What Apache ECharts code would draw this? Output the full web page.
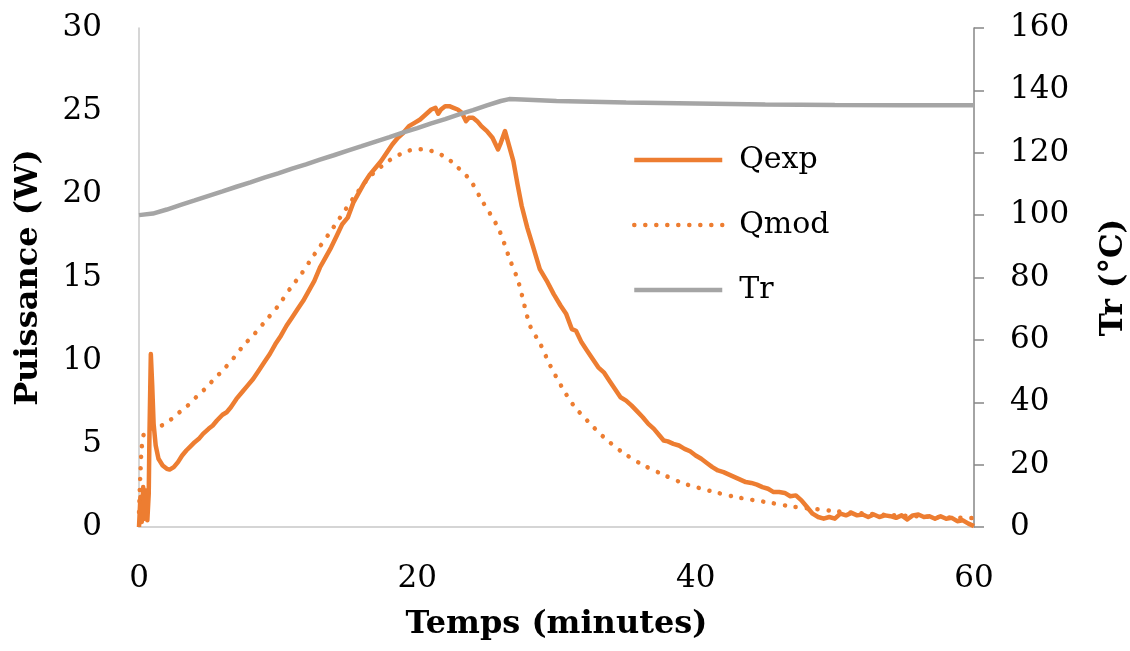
<!DOCTYPE html>
<html>
<head>
<meta charset="utf-8">
<script src="https://cdn.jsdelivr.net/npm/echarts@6/dist/echarts.min.js"></script>
<style>html,body{margin:0;padding:0;background:#fff}#c{width:1130px;height:651px}</style>
</head>
<body>
<div id="c"></div>
<script>
// ---- data (time in minutes) ----
const xTicks = [0, 20, 40, 60];
const leftTicks = [0, 5, 10, 15, 20, 25, 30];
const rightTicks = [0, 20, 40, 60, 80, 100, 120, 140, 160];

const qexp = [
 [0,0],[0.1,1.8],[0.2,0.3],[0.3,2.4],[0.4,0.5],[0.5,2.2],[0.6,0.4],[0.7,2.0],[0.75,5.5],[0.85,10.4],
 [0.95,8.5],[1.05,6.2],[1.2,4.9],[1.4,4.1],[1.7,3.7],[2.0,3.5],[2.2,3.45],[2.5,3.6],[2.8,3.9],[3.1,4.3],
 [3.4,4.6],[3.7,4.85],[4.0,5.1],[4.3,5.3],[4.6,5.6],[5.0,5.9],[5.3,6.1],[5.6,6.4],[6.0,6.75],[6.3,6.9],
 [6.6,7.2],[7.0,7.7],[7.4,8.1],[7.8,8.5],[8.2,8.9],[8.6,9.4],[9.0,9.9],[9.4,10.4],[9.8,11.0],[10.2,11.5],
 [10.6,12.1],[11.0,12.6],[11.4,13.1],[11.8,13.6],[12.2,14.2],[12.6,14.8],[13.0,15.6],[13.4,16.2],[13.8,16.8],[14.2,17.5],
 [14.6,18.2],[15.0,18.6],[15.4,19.5],[15.8,20.1],[16.2,20.7],[16.6,21.2],[17.0,21.6],[17.4,22.0],[17.8,22.5],[18.2,23.0],
 [18.6,23.4],[19.0,23.7],[19.4,24.1],[19.8,24.3],[20.2,24.5],[20.6,24.8],[21.0,25.1],[21.3,25.2],[21.5,24.85],[21.7,25.1],
 [22.0,25.3],[22.3,25.3],[22.6,25.2],[22.9,25.1],[23.2,24.9],[23.5,24.4],[23.7,24.6],[24.0,24.6],[24.3,24.4],[24.6,24.1],
 [25.0,23.8],[25.4,23.4],[25.8,22.7],[26.0,23.1],[26.3,23.8],[26.5,23.2],[26.9,22.0],[27.2,20.6],[27.5,19.3],[27.9,18.0],
 [28.3,16.9],[28.8,15.5],[29.3,14.8],[29.8,14.0],[30.3,13.3],[30.7,12.8],[31.1,11.9],[31.4,11.8],[31.8,11.1],[32.2,10.6],
 [32.6,10.1],[33.0,9.6],[33.4,9.3],[33.8,8.8],[34.2,8.3],[34.6,7.8],[35.0,7.6],[35.4,7.3],[35.8,6.95],[36.2,6.6],
 [36.6,6.2],[37.0,5.9],[37.4,5.5],[37.7,5.2],[38.0,5.15],[38.4,5.0],[38.8,4.9],[39.2,4.7],[39.6,4.55],[40.0,4.3],
 [40.4,4.1],[40.8,3.85],[41.2,3.6],[41.6,3.4],[42.0,3.3],[42.4,3.15],[42.8,3.0],[43.2,2.85],[43.6,2.7],[44.0,2.65],
 [44.4,2.55],[44.8,2.4],[45.2,2.3],[45.6,2.1],[46.0,2.1],[46.4,2.05],[46.8,1.85],[47.2,1.9],[47.6,1.6],[48.0,1.2],
 [48.4,0.8],[48.8,0.6],[49.2,0.5],[49.6,0.6],[50.0,0.5],[50.4,0.8],[50.8,0.7],[51.2,0.85],[51.6,0.7],[52.0,0.75],
 [52.4,0.6],[52.8,0.75],[53.2,0.6],[53.6,0.7],[54.0,0.65],[54.4,0.55],[54.8,0.7],[55.2,0.45],[55.6,0.7],[56.0,0.75],
 [56.4,0.6],[56.8,0.65],[57.2,0.5],[57.6,0.65],[58.0,0.5],[58.4,0.55],[58.8,0.35],[59.2,0.4],[59.6,0.2],[60,0.05]
];

const qmod = [
 [0,0.9],[0.1,3.2],[0.2,4.8],[0.35,5.6],[0.6,5.85],[1.0,5.95],[1.75,6.15],[2.5,6.6],[2.95,6.93],[3.5,7.3],
 [4.15,7.84],[4.8,8.35],[5.34,8.84],[6.0,9.4],[6.78,10.14],[7.5,10.9],[8.34,11.65],[9.0,12.3],[10.0,13.3],[11.0,14.5],
 [11.57,15.1],[12.53,16.3],[13.96,18.0],[15.4,19.77],[16.6,21.07],[18.04,22.07],[19.0,22.5],[19.6,22.67],[20.43,22.71],[21.15,22.57],
 [22.0,22.25],[22.58,21.87],[23.78,20.87],[24.62,19.66],[25.82,17.96],[26.66,16.06],[27.26,14.75],[28.1,12.1],[28.81,11.05],[29.53,9.74],
 [30.37,8.44],[31.2,7.34],[32.28,6.33],[33.36,5.43],[34.68,4.53],[36.12,3.77],[37.56,3.19],[39.11,2.63],[41.27,2.12],[42.95,1.79],
 [45.34,1.46],[47.0,1.22],[48.6,1.08],[50,0.95],[52,0.82],[54,0.72],[56,0.64],[58,0.58],[60,0.53]
];

const tr = [
 [0,100],[1,100.5],[2,101.8],[3,103.3],[4,104.7],[5,106.2],[6,107.6],[7,109.1],[8,110.5],[9,112.0],
 [10,113.4],[11,114.9],[12,116.3],[13,117.8],[14,119.2],[15,120.7],[16,122.1],[17,123.6],[18,125.0],[19,126.5],
 [20,127.9],[21,129.4],[22,130.8],[23,132.3],[24,133.7],[25,135.2],[26,136.6],[26.6,137.2],[27.5,137.1],[30,136.6],
 [35,136.1],[40,135.8],[45,135.5],[50,135.3],[55,135.2],[60,135.2]
];

const orange = '#ED7D31';
const grey = '#A5A5A5';
const font = 'DejaVu Serif';

const chart = echarts.init(document.getElementById('c'), null, {renderer: 'canvas'});
chart.setOption({
  animation: false,
  backgroundColor: '#ffffff',
  grid: {left: 139, right: 156, top: 28, bottom: 124, containLabel: false, outerBoundsMode: 'none'},
  legend: {
    orient: 'vertical',
    left: 627, top: 140,
    itemWidth: 88, itemHeight: 30, itemGap: 35,
    itemStyle: {opacity: 0},
    lineStyle: {width: 4.5},
    textStyle: {fontFamily: font, fontSize: 30, lineHeight: 30, color: '#000', padding: [0, 0, 0, 12]},
    data: ['Qexp', 'Qmod', 'Tr']
  },
  xAxis: {
    type: 'value', min: xTicks[0], max: xTicks[xTicks.length - 1], interval: 20,
    name: 'Temps (minutes)', nameLocation: 'middle', nameGap: 82,
    nameTextStyle: {fontFamily: font, fontSize: 32, fontWeight: 'bold', color: '#000'},
    axisLine: {show: true, lineStyle: {color: '#C8C8C8', width: 1.5}},
    axisTick: {show: false},
    splitLine: {show: false},
    axisLabel: {fontFamily: font, fontSize: 31, color: '#000', margin: 36}
  },
  yAxis: [
    {
      type: 'value', min: leftTicks[0], max: leftTicks[leftTicks.length - 1], interval: 5,
      name: 'Puissance (W)', nameLocation: 'middle', nameGap: 94, nameRotate: 90,
      nameTextStyle: {fontFamily: font, fontSize: 32, fontWeight: 'bold', color: '#000'},
      axisLine: {show: true, lineStyle: {color: '#C8C8C8', width: 1.5}},
      axisTick: {show: false},
      splitLine: {show: false},
      axisLabel: {fontFamily: font, fontSize: 31, color: '#000', margin: 37}
    },
    {
      type: 'value', position: 'right', min: rightTicks[0], max: rightTicks[rightTicks.length - 1], interval: 20,
      name: 'Tr (°C)', nameLocation: 'middle', nameGap: 124, nameRotate: 90,
      nameTextStyle: {fontFamily: font, fontSize: 31, fontWeight: 'bold', color: '#000'},
      axisLine: {show: true, lineStyle: {color: '#868686', width: 1.5}},
      axisTick: {show: true, inside: false, length: 10, lineStyle: {color: '#868686', width: 1.5}},
      splitLine: {show: false},
      axisLabel: {fontFamily: font, fontSize: 31, color: '#000', margin: 36}
    }
  ],
  series: [
    {name: 'Qexp', type: 'line', yAxisIndex: 0, data: qexp, showSymbol: false, symbol: 'none',
     lineStyle: {color: orange, width: 4.5, join: 'round'}, itemStyle: {color: orange}},
    {name: 'Qmod', type: 'line', yAxisIndex: 0, data: qmod, showSymbol: false, symbol: 'none', smooth: 0.3,
     lineStyle: {color: orange, width: 4.5, type: [0.1, 10.9], cap: 'round'}, itemStyle: {color: orange}},
    {name: 'Tr', type: 'line', yAxisIndex: 1, data: tr, showSymbol: false, symbol: 'none',
     lineStyle: {color: grey, width: 4.5}, itemStyle: {color: grey}}
  ]
});
</script>
</body>
</html>
